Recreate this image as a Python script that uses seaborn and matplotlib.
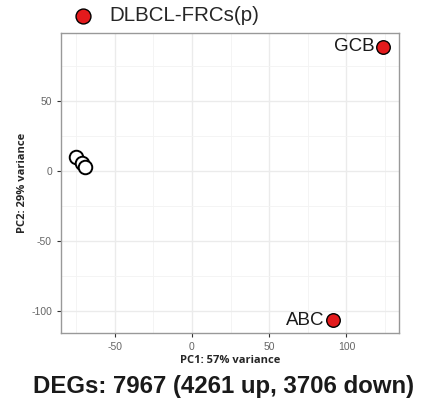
import seaborn as sns
import matplotlib.pyplot as plt
import pandas as pd

# PCA coordinates
samples = ['s1', 's2', 's3', 'GCB', 'ABC']
pc1 = [-75, -71, -69, 123.5, 91]
pc2 = [10, 6, 3, 89, -107]
groups = ['other', 'other', 'other', 'DLBCL-FRCs(p)', 'DLBCL-FRCs(p)']
point_labels = ['', '', '', 'GCB', 'ABC']

df = pd.DataFrame({'sample': samples, 'PC1': pc1, 'PC2': pc2,
                   'group': groups, 'label': point_labels})

sns.set_style('white')
plt.rcParams['font.family'] = ['Liberation Sans', 'DejaVu Sans']
plt.rcParams['axes.unicode_minus'] = False

fig = plt.figure(figsize=(4.22, 4.05), dpi=100)
ax = fig.add_axes([61 / 422, 72 / 405, 338 / 422, 300 / 405])

other = df[df['group'] == 'other']
frc = df[df['group'] == 'DLBCL-FRCs(p)']

sns.scatterplot(data=other, x='PC1', y='PC2', ax=ax, s=95,
                facecolor='white', edgecolor='black', linewidth=1.4,
                legend=False, zorder=3)
sns.scatterplot(data=frc, x='PC1', y='PC2', ax=ax, s=95,
                color='#e31a1c', edgecolor='black', linewidth=1.0,
                label='DLBCL-FRCs(p)', zorder=3)

for _, r in frc.iterrows():
    ax.annotate(r['label'], (r['PC1'], r['PC2']), xytext=(-6, 0),
                textcoords='offset points', ha='right', va='center',
                fontsize=13.5, color='#1a1a1a')

ax.set_xlim(-84.7, 134)
ax.set_ylim(-116, 99)
ax.set_xticks([-50, 0, 50, 100])
ax.set_yticks([-100, -50, 0, 50])
ax.set_xticks([-75, -25, 25, 75, 125], minor=True)
ax.set_yticks([-75, -25, 25, 75], minor=True)
ax.grid(True, which='major', color='#ebebeb', linewidth=1.0)
ax.grid(True, which='minor', color='#f3f3f3', linewidth=0.6)
ax.set_axisbelow(True)
for sp in ax.spines.values():
    sp.set_color('#999999')
    sp.set_linewidth(1.0)
ax.tick_params(axis='both', which='major', length=3, width=0.8,
               color='#333333', labelsize=7.5, labelcolor='#666666',
               bottom=True, left=True)
ax.tick_params(axis='both', which='minor', length=0)

ax.set_xlabel('PC1: 57% variance', fontsize=8, fontweight='bold',
              family=['Open Sans', 'DejaVu Sans'], labelpad=2)
ax.set_ylabel('PC2: 29% variance', fontsize=8, fontweight='bold',
              family=['Open Sans', 'DejaVu Sans'], labelpad=2)

leg = ax.legend(loc='center left', bbox_to_anchor=(0.005, 1.057), frameon=False,
                fontsize=14.8, handletextpad=0.25, markerscale=1.1,
                borderaxespad=0, borderpad=0)

fig.text(224 / 422, 19 / 405, 'DEGs: 7967 (4261 up, 3706 down)', ha='center',
         va='center', fontsize=17.3, fontweight='bold', color='#1a1a1a')

fig.savefig('out.png', dpi=100)
